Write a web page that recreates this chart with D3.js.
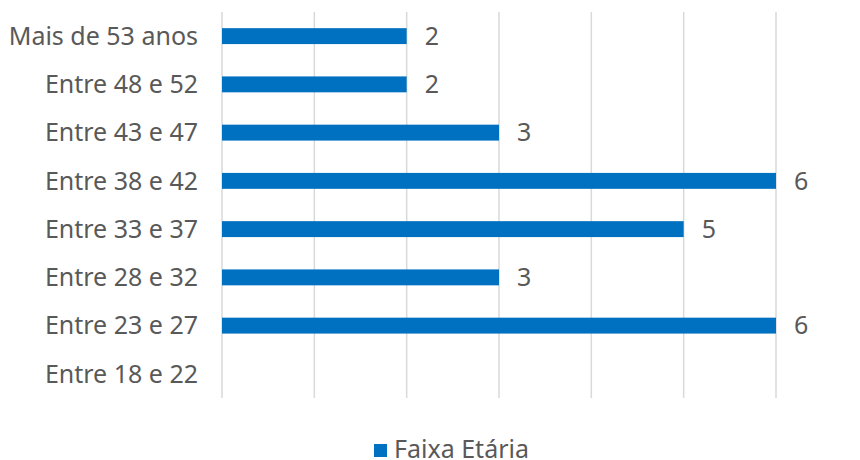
<!DOCTYPE html>
<html><head><meta charset="utf-8">
<script src="https://cdn.jsdelivr.net/npm/d3@7"></script>
<style>body{margin:0;background:#fff}text{font-family:"Noto Sans",sans-serif;fill:#595959}</style>
</head><body><svg id="c" width="860" height="460"></svg>
<script>
const categories = ["Mais de 53 anos","Entre 48 e 52","Entre 43 e 47","Entre 38 e 42","Entre 33 e 37","Entre 28 e 32","Entre 23 e 27","Entre 18 e 22"];
const values = [2,2,3,6,5,3,6,null];
const ticks = [0,1,2,3,4,5,6];
const seriesName = "Faixa Etária";

const svg = d3.select("#c");
const x = d3.scaleLinear().domain([0,6]).range([222,776]);
const y = d3.scaleBand().domain(categories).range([12,398]).paddingInner(0.67).paddingOuter(0.335);

svg.append("g").selectAll("line").data(ticks).join("line")
  .attr("x1",d=>x(d)).attr("x2",d=>x(d)).attr("y1",12).attr("y2",398)
  .attr("stroke","#d9d9d9").attr("stroke-width",1.5);

const data = categories.map((c,i)=>({c,v:values[i]})).filter(d=>d.v!=null);
svg.append("g").selectAll("rect").data(data).join("rect")
  .attr("x",x(0)).attr("y",d=>y(d.c)).attr("width",d=>x(d.v)-x(0)).attr("height",y.bandwidth())
  .attr("fill","#0070C0");

svg.append("g").selectAll("text").data(data).join("text")
  .attr("x",d=>x(d.v)+18).attr("y",d=>y(d.c)+y.bandwidth()/2).attr("dy","0.35em")
  .attr("font-size",25).text(d=>d.v);

svg.append("g").selectAll("text").data(categories).join("text")
  .attr("x",198).attr("y",d=>y(d)+y.bandwidth()/2).attr("dy","0.35em")
  .attr("text-anchor","end").attr("font-size",25).text(d=>d);

const lg = svg.append("g");
lg.append("rect").attr("x",374).attr("y",444).attr("width",13).attr("height",13).attr("fill","#0070C0");
lg.append("text").attr("x",394).attr("y",458).attr("font-size",25).text(seriesName);
</script></body></html>
